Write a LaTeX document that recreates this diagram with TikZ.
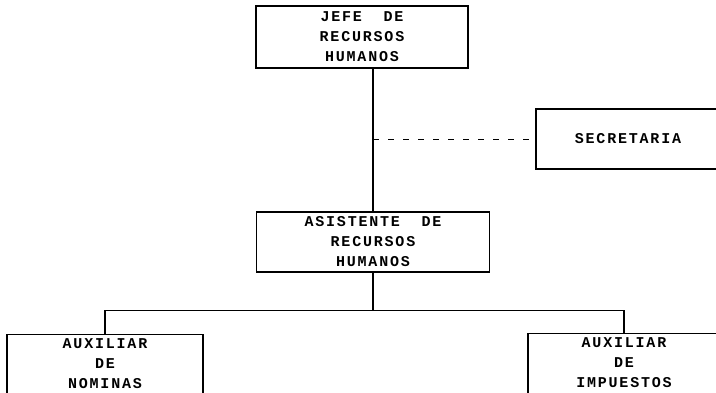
\documentclass[tikz,border=0pt]{standalone}
\usepackage{fontspec}
\newfontfamily\orgfont[LetterSpace=12]{Liberation Mono Bold}
\begin{document}
\begin{tikzpicture}[x=1pt,y=-1pt,
    texto/.style={align=center, inner sep=0pt, font=\orgfont\fontsize{15}{20}\selectfont},
    caja/.style={texto, draw, line width=1.1pt},
    linea/.style={line width=1.1pt}]
    \useasboundingbox (0,0) rectangle (716,393);
    \clip (0,0) rectangle (716,393);

    % Jefe de recursos humanos
    \node[caja, minimum width=212pt, minimum height=62pt] (jefe) at (362,37) {JEFE\ \ DE\\RECURSOS\\HUMANOS};

    % Secretaria (cortada a la derecha)
    \node[caja, minimum width=184pt, minimum height=60pt] (secre) at (628,139) {SECRETARIA};

    % Asistente
    \node[caja, minimum width=233pt, minimum height=60pt] (asist) at (373,242) {ASISTENTE\ \ DE\\RECURSOS\\HUMANOS};

    % Auxiliares (cortados abajo)
    \node[draw, line width=1.1pt, minimum width=196pt, minimum height=80pt, anchor=north] (nom) at (105,334) {};
    \node[texto, anchor=north] (nomtxt) at ([yshift=-4pt]nom.north) {AUXILIAR\\DE\\NOMINAS};
    \node[draw, line width=1.1pt, minimum width=192pt, minimum height=80pt, anchor=north] (imp) at (624,333) {};
    \node[texto, anchor=north] (imptxt) at ([yshift=-4pt]imp.north) {AUXILIAR\\DE\\IMPUESTOS};

    % Lineas de mando
    \draw[linea] (asist.north |- jefe.south) -- (asist.north);
    \draw[line width=0.8pt, dash pattern=on 6pt off 9pt] (asist.north |- secre.west) -- (secre.west);
    \draw[linea] (asist.south) -- ++(0,38) coordinate (rama);
    \draw[linea] (nom.north) |- (rama) -| (imp.north);
\end{tikzpicture}
\end{document}
